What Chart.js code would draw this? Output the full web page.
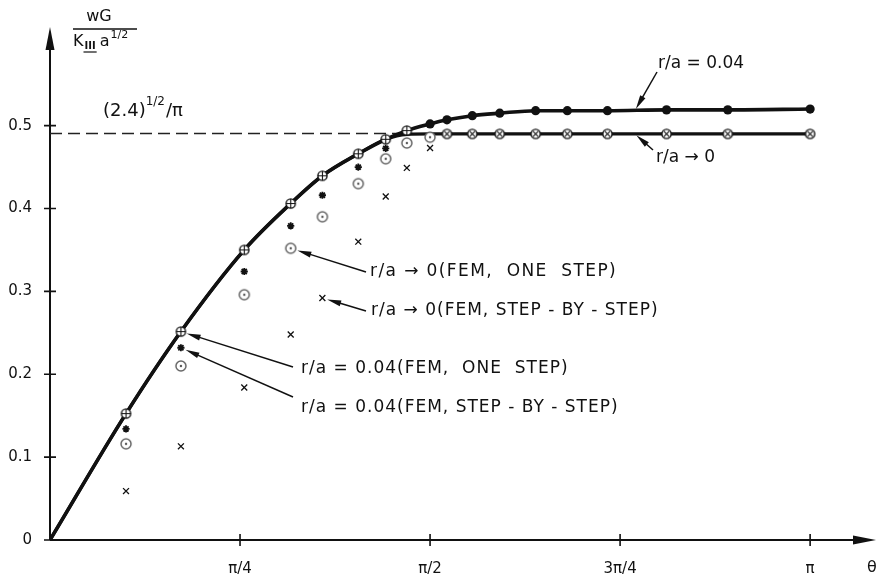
<!DOCTYPE html>
<html>
<head>
<meta charset="utf-8">
<script src="https://cdn.jsdelivr.net/npm/chart.js@4.4.1/dist/chart.umd.min.js"></script>
<style>
  html, body { margin: 0; padding: 0; background: #fff; }
  canvas { display: block; }
</style>
</head>
<body>
<canvas id="chart" width="885" height="579"></canvas>
<script>
// theta in degrees (axis labelled in multiples of pi), values = wG / (K_III a^1/2)
const thetaFem = [18, 31, 46, 57, 64.5, 73, 79.5, 84.5, 90];
const femOneStep04 = [0.1525, 0.2515, 0.350, 0.406, 0.4395, 0.466, 0.4835, 0.494];
const femStepByStep04 = [0.134, 0.232, 0.324, 0.379, 0.416, 0.450, 0.4725];
const femOneStep0 = [0.116, 0.210, 0.296, 0.352, 0.390, 0.430, 0.460, 0.479, 0.486];
const femStepByStep0 = [0.059, 0.113, 0.184, 0.248, 0.292, 0.360, 0.4145, 0.449, 0.473];

const thetaPlateau04 = [90, 94, 100, 106.5, 115, 122.5, 132, 146, 160.5, 180];
const plateau04 = [0.502, 0.507, 0.512, 0.515, 0.518, 0.518, 0.518, 0.519, 0.519, 0.520];
const thetaPlateau0 = [94, 100, 106.5, 115, 122.5, 132, 146, 160.5, 180];
const plateau0 = [0.490, 0.490, 0.490, 0.490, 0.490, 0.490, 0.490, 0.490, 0.490];

const thetaCurve = [0, 18, 31, 46, 57, 64.5, 73, 79.5, 84.5, 90, 94, 100, 106.5, 115, 122.5, 132, 146, 160.5, 180];
const curve04 = [0, 0.1525, 0.2515, 0.350, 0.406, 0.4395, 0.466, 0.4835, 0.494, 0.502, 0.507, 0.512, 0.515, 0.518, 0.518, 0.518, 0.519, 0.519, 0.520];
const curve0 = [0, 0.1525, 0.2515, 0.350, 0.406, 0.4395, 0.466, 0.4835, 0.4895, 0.490, 0.490, 0.490, 0.490, 0.490, 0.490, 0.490, 0.490, 0.490, 0.490];

const limitTheta = [0, 83];
const limitValue = [0.4905, 0.4905]; // (2.4)^(1/2)/pi

const xTicks = [45, 90, 135, 180];
const xTickLabels = ['π/4', 'π/2', '3π/4', 'π'];
const yTicks = [0, 0.1, 0.2, 0.3, 0.4, 0.5];
const yTickLabels = ['0', '0.1', '0.2', '0.3', '0.4', '0.5'];

const FONT = '"DejaVu Sans", sans-serif';

function pts(xs, ys) {
    return ys.map((y, i) => ({ x: xs[i], y: y }));
}

function marker(size, draw) {
    const c = document.createElement('canvas');
    c.width = c.height = size;
    const g = c.getContext('2d');
    draw(g, size / 2);
    return c;
}

// circle with plus
const plusCircle = marker(13, (g, m) => {
    g.beginPath(); g.arc(m, m, 4.6, 0, Math.PI * 2);
    g.fillStyle = '#fff'; g.fill();
    g.lineWidth = 1.4; g.strokeStyle = '#111'; g.stroke();
    g.beginPath();
    g.moveTo(m - 4.6, m); g.lineTo(m + 4.6, m);
    g.moveTo(m, m - 4.6); g.lineTo(m, m + 4.6);
    g.lineWidth = 1.1; g.stroke();
});
// circle with dot
const dotCircle = marker(14, (g, m) => {
    g.beginPath(); g.arc(m, m, 5, 0, Math.PI * 2);
    g.fillStyle = '#fff'; g.fill();
    g.lineWidth = 1.5; g.strokeStyle = '#666'; g.stroke();
    g.beginPath(); g.arc(m, m, 1.2, 0, Math.PI * 2);
    g.fillStyle = '#555'; g.fill();
});
// circle with x
const xCircle = marker(13, (g, m) => {
    g.beginPath(); g.arc(m, m, 4.6, 0, Math.PI * 2);
    g.fillStyle = '#fff'; g.fill();
    g.lineWidth = 1.4; g.strokeStyle = '#111'; g.stroke();
    g.beginPath();
    g.moveTo(m - 2.8, m - 2.8); g.lineTo(m + 2.8, m + 2.8);
    g.moveTo(m + 2.8, m - 2.8); g.lineTo(m - 2.8, m + 2.8);
    g.lineWidth = 1.1; g.stroke();
});

function arrow(ctx, x1, y1, x2, y2, len, half) {
    const a = Math.atan2(y2 - y1, x2 - x1);
    ctx.beginPath();
    ctx.moveTo(x1, y1);
    ctx.lineTo(x2 - Math.cos(a) * len * 0.6, y2 - Math.sin(a) * len * 0.6);
    ctx.stroke();
    ctx.beginPath();
    ctx.moveTo(x2, y2);
    ctx.lineTo(x2 - Math.cos(a) * len - Math.sin(a) * half, y2 - Math.sin(a) * len + Math.cos(a) * half);
    ctx.lineTo(x2 - Math.cos(a) * len + Math.sin(a) * half, y2 - Math.sin(a) * len - Math.cos(a) * half);
    ctx.closePath();
    ctx.fill();
}

// annotation texts: start point of the leader, text anchor, data point the arrow points to
const notes = [
    { text: 'r/a → 0(FEM,  ONE  STEP)', tx: 370, ty: 272, lx: 366, ly: 272, target: [thetaFem[3], femOneStep0[3]], gap: 7, sp: '1.4px' },
    { text: 'r/a → 0(FEM, STEP - BY - STEP)', tx: 371, ty: 311, lx: 366, ly: 311, target: [thetaFem[4], femStepByStep0[4]], gap: 5, sp: '1px' },
    { text: 'r/a = 0.04(FEM,  ONE  STEP)', tx: 301, ty: 369, lx: 293, ly: 367, target: [thetaFem[1], femOneStep04[1]], gap: 6, sp: '1px' },
    { text: 'r/a = 0.04(FEM, STEP - BY - STEP)', tx: 301, ty: 408, lx: 293, ly: 397, target: [thetaFem[1], femStepByStep04[1]], gap: 5, sp: '1px' },
    { text: 'r/a = 0.04', tx: 658, ty: 64, lx: 657, ly: 72, target: [138.5, plateau04[6]], gap: 2, sp: '0px' },
    { text: 'r/a → 0', tx: 656, ty: 158, lx: 653, ly: 150, target: [138.5, plateau0[5]], gap: 2, sp: '0px' }
];

const drawPlugin = {
    id: 'drawing',
    beforeDatasetsDraw(chart) {
        const { ctx, scales: { x, y } } = chart;
        const x0 = x.getPixelForValue(0), y0 = y.getPixelForValue(0);
        const top = chart.chartArea.top, right = chart.chartArea.right;
        ctx.save();
        ctx.strokeStyle = '#111';
        ctx.fillStyle = '#111';
        ctx.lineWidth = 2;
        // axes with arrow heads
        ctx.beginPath();
        ctx.moveTo(x0, y0); ctx.lineTo(x0, top + 10);
        ctx.moveTo(x0, y0); ctx.lineTo(right - 10, y0);
        ctx.stroke();
        ctx.beginPath();
        ctx.moveTo(x0, top); ctx.lineTo(x0 - 4.5, top + 23); ctx.lineTo(x0 + 4.5, top + 23); ctx.closePath();
        ctx.fill();
        ctx.beginPath();
        ctx.moveTo(right, y0); ctx.lineTo(right - 23, y0 - 4.5); ctx.lineTo(right - 23, y0 + 4.5); ctx.closePath();
        ctx.fill();
        // tick marks crossing the axes
        ctx.lineWidth = 1.6;
        ctx.beginPath();
        yTicks.forEach(v => {
            const py = y.getPixelForValue(v);
            ctx.moveTo(x0 - 6, py); ctx.lineTo(v === 0 ? x0 : x0 + 6, py);
        });
        xTicks.forEach(v => {
            const px = x.getPixelForValue(v);
            ctx.moveTo(px, y0 - 6); ctx.lineTo(px, y0 + 6);
        });
        ctx.stroke();
        ctx.restore();
    },
    afterDatasetsDraw(chart) {
        const { ctx, scales: { x, y } } = chart;
        ctx.save();
        ctx.fillStyle = '#111';
        ctx.strokeStyle = '#111';
        ctx.textBaseline = 'middle';

        // y axis title: wG / (K_III a^1/2)
        ctx.font = '16px ' + FONT;
        ctx.textAlign = 'center';
        ctx.fillText('wG', 99, 17);
        ctx.lineWidth = 1.5;
        ctx.beginPath(); ctx.moveTo(73, 29); ctx.lineTo(137, 29); ctx.stroke();
        ctx.textAlign = 'left';
        let cx = 73;
        ctx.fillText('K', cx, 42); cx += ctx.measureText('K').width + 1;
        ctx.font = 'bold 10px ' + FONT;
        ctx.fillText('III', cx, 46);
        const wIII = ctx.measureText('III').width;
        ctx.lineWidth = 1.2;
        ctx.beginPath(); ctx.moveTo(cx - 1, 52); ctx.lineTo(cx + wIII + 1, 52); ctx.stroke();
        cx += wIII + 4;
        ctx.font = '16px ' + FONT;
        ctx.fillText('a', cx, 42); cx += ctx.measureText('a').width + 1;
        ctx.font = '11px ' + FONT;
        ctx.fillText('1/2', cx, 35);

        // theta label
        ctx.font = '16px ' + FONT;
        ctx.textAlign = 'center';
        ctx.fillText('θ', 872, 568);

        // (2.4)^1/2 / pi
        ctx.textAlign = 'left';
        ctx.font = '18px ' + FONT;
        let lx = 103;
        ctx.fillText('(2.4)', lx, 111); lx += ctx.measureText('(2.4)').width;
        ctx.font = '12px ' + FONT;
        ctx.fillText('1/2', lx, 102); lx += ctx.measureText('1/2').width + 1;
        ctx.font = '18px ' + FONT;
        ctx.fillText('/π', lx, 111);

        // notes with leader arrows
        ctx.font = '17px ' + FONT;
        ctx.lineWidth = 1.5;
        notes.forEach(n => {
            ctx.letterSpacing = n.sp;
            ctx.fillText(n.text, n.tx, n.ty);
            const px = x.getPixelForValue(n.target[0]);
            const py = y.getPixelForValue(n.target[1]);
            const a = Math.atan2(py - n.ly, px - n.lx);
            arrow(ctx, n.lx, n.ly, px - Math.cos(a) * n.gap, py - Math.sin(a) * n.gap, 14, 3);
        });
        ctx.restore();
    }
};

Chart.defaults.font.family = FONT;
Chart.defaults.color = '#111';

new Chart(document.getElementById('chart'), {
    type: 'scatter',
    data: {
        datasets: [
            {
                label: 'r/a = 0.04 (FEM, ONE STEP)',
                data: pts(thetaFem, femOneStep04),
                pointStyle: plusCircle, pointRadius: 6, order: 1
            },
            {
                label: 'r/a = 0.04 (FEM, STEP-BY-STEP)',
                data: pts(thetaFem, femStepByStep04),
                pointStyle: 'star', pointRadius: 3.6, borderWidth: 1.8,
                borderColor: '#111', backgroundColor: '#111', order: 1
            },
            {
                label: 'r/a -> 0 (FEM, ONE STEP)',
                data: pts(thetaFem, femOneStep0),
                pointStyle: dotCircle, pointRadius: 7, order: 1
            },
            {
                label: 'r/a -> 0 (FEM, STEP-BY-STEP)',
                data: pts(thetaFem, femStepByStep0),
                pointStyle: 'crossRot', pointRadius: 4.2, borderWidth: 1.3,
                borderColor: '#111', order: 1
            },
            {
                label: 'r/a = 0.04 points',
                data: pts(thetaPlateau04, plateau04),
                pointStyle: 'circle', pointRadius: 4.6, borderWidth: 0,
                backgroundColor: '#111', order: 1
            },
            {
                label: 'r/a -> 0 points',
                data: pts(thetaPlateau0, plateau0),
                pointStyle: xCircle, pointRadius: 6, order: 1
            },
            {
                label: 'r/a = 0.04',
                data: pts(thetaCurve, curve04),
                showLine: true, pointRadius: 0, borderColor: '#111', borderWidth: 3.6,
                cubicInterpolationMode: 'monotone', order: 5
            },
            {
                label: 'r/a -> 0',
                data: pts(thetaCurve, curve0),
                showLine: true, pointRadius: 0, borderColor: '#111', borderWidth: 3.2,
                cubicInterpolationMode: 'monotone', order: 6
            },
            {
                label: '(2.4)^1/2/pi',
                data: pts(limitTheta, limitValue),
                showLine: true, pointRadius: 0, borderColor: '#222', borderWidth: 1.6,
                borderDash: [12, 6], order: 7
            }
        ]
    },
    options: {
        responsive: false,
        animation: false,
        devicePixelRatio: 1,
        events: [],
        layout: { padding: { top: 15, right: 9, left: 0, bottom: 0 } },
        plugins: { legend: { display: false }, tooltip: { enabled: false } },
        scales: {
            x: {
                type: 'linear', min: 0, max: 195.6,
                afterBuildTicks(s) { s.ticks = xTicks.map(v => ({ value: v })); },
                afterFit(s) { s.height = 39; },
                ticks: {
                    callback: (v, i) => xTickLabels[i],
                    autoSkip: false, maxRotation: 0, padding: 20,
                    font: { size: 15 }, color: '#111'
                },
                grid: { display: false, drawTicks: false },
                border: { display: false }
            },
            y: {
                type: 'linear', min: 0, max: 0.619,
                afterBuildTicks(s) { s.ticks = yTicks.map(v => ({ value: v })); },
                afterFit(s) { s.width = 50; },
                ticks: {
                    callback: (v, i) => yTickLabels[i],
                    padding: 18, font: { size: 15 }, color: '#111'
                },
                grid: { display: false, drawTicks: false },
                border: { display: false }
            }
        }
    },
    plugins: [drawPlugin]
});
</script>
</body>
</html>
